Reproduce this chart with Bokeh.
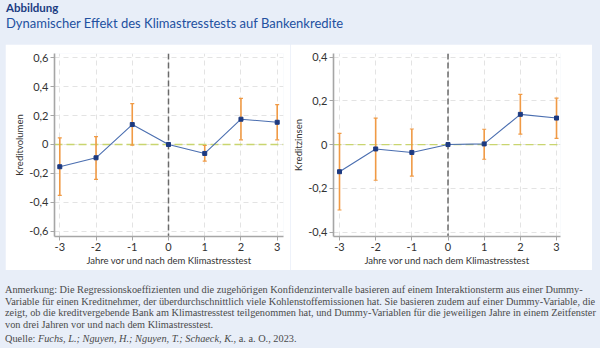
from bokeh.plotting import figure
from bokeh.models import (Div, FixedTicker, Whisker, TeeHead, ColumnDataSource,
                          Span, Range1d, Spacer)
from bokeh.layouts import column, row
from bokeh.embed import file_html
from bokeh.resources import INLINE

# ---- data -------------------------------------------------------------
years = [-3, -2, -1, 0, 1, 2, 3]
x_tick_labels = ["-3", "-2", "-1", "0", "1", "2", "3"]

vol = [-0.154, -0.092, 0.138, 0.0, -0.062, 0.175, 0.154]
vol_lo = [-0.352, -0.241, -0.005, 0.0, -0.115, 0.032, 0.032]
vol_hi = [0.046, 0.055, 0.283, 0.0, -0.007, 0.320, 0.276]

zins = [-0.124, -0.020, -0.036, 0.0, 0.003, 0.138, 0.121]
zins_lo = [-0.299, -0.163, -0.144, 0.0, -0.067, 0.048, 0.028]
zins_hi = [0.051, 0.121, 0.071, 0.0, 0.070, 0.229, 0.212]

vol_ticks = [-0.6, -0.4, -0.2, 0.0, 0.2, 0.4, 0.6]
vol_tick_labels = ["-0,6", "-0,4", "-0,2", "0", "0,2", "0,4", "0,6"]
zins_ticks = [-0.4, -0.2, 0.0, 0.2, 0.4]
zins_tick_labels = ["-0,4", "-0,2", "0", "0,2", "0,4"]

title_top = "Abbildung"
title_main = "Dynamischer Effekt des Klimastresstests auf Bankenkredite"
x_label = "Jahre vor und nach dem Klimastresstest"
note_lines = [
    "Anmerkung: Die Regressionskoeffizienten und die zugehörigen Konfidenzintervalle basieren auf einem Interaktionsterm aus einer Dummy-",
    "Variable für einen Kreditnehmer, der überdurchschnittlich viele Kohlenstoffemissionen hat. Sie basieren zudem auf einer Dummy-Variable, die",
    "zeigt, ob die kreditvergebende Bank am Klimastresstest teilgenommen hat, und Dummy-Variablen für die jeweiligen Jahre in einem Zeitfenster",
    "von drei Jahren vor und nach dem Klimastresstest.",
]

# ---- style -------------------------------------------------------------
BG = "#e8eef8"
ORANGE = "#f09a45"
BLUE = "#4a6eb0"
NAVY = "#1d3a80"
AXIS = "#a6a6a6"
FONT = "Lato"


def make_panel(vals, lo, hi, yticks, ylabels, ylab, width, xr, yr, bl, br):
    p = figure(width=width, height=226, output_backend="svg", toolbar_location=None,
               x_range=Range1d(*xr), y_range=Range1d(*yr),
               min_border_left=bl, min_border_right=br,
               min_border_top=9, min_border_bottom=34)
    p.background_fill_color = "white"
    p.border_fill_color = "white"
    p.outline_line_color = None

    # axes
    p.xaxis.ticker = FixedTicker(ticks=years)
    p.xaxis.major_label_overrides = {y: l for y, l in zip(years, x_tick_labels)}
    p.yaxis.ticker = FixedTicker(ticks=yticks)
    p.yaxis.major_label_overrides = {t: l for t, l in zip(yticks, ylabels)}
    for ax in (p.xaxis, p.yaxis):
        ax.axis_line_color = AXIS
        ax.axis_line_width = 1.6
        ax.major_tick_line_color = AXIS
        ax.major_tick_out = 4
        ax.major_tick_in = 0
        ax.minor_tick_line_color = None
        ax.major_label_text_font = FONT
        ax.major_label_text_font_size = "11px"
        ax.major_label_text_color = "#333333"
        ax.axis_label_text_font = FONT
        ax.axis_label_text_font_size = "9.5px"
        ax.axis_label_text_font_style = "normal"
        ax.axis_label_text_color = "#333333"
    p.xaxis.axis_label = x_label
    p.xaxis.major_label_standoff = 2
    p.xaxis.axis_label_standoff = 1
    p.yaxis.axis_label = ylab
    p.yaxis.major_label_standoff = 2
    p.yaxis.axis_label_standoff = 1

    # grid
    p.xgrid.ticker = FixedTicker(ticks=years)
    p.ygrid.ticker = FixedTicker(ticks=yticks)
    for g in (p.xgrid, p.ygrid):
        g.grid_line_color = "#e3e3e3"
        g.grid_line_dash = "5 4"
        g.grid_line_width = 1

    # reference lines
    p.add_layout(Span(location=0, dimension="width", line_color="#c9d56f",
                      line_dash="8 4", line_width=1.3, level="underlay"))
    p.add_layout(Span(location=0, dimension="height", line_color="#6a6a6a",
                      line_dash="6 3", line_width=1.5, level="underlay"))

    # confidence intervals (none for the reference year 0)
    idx = [i for i, y in enumerate(years) if y != 0]
    src_ci = ColumnDataSource(dict(x=[years[i] for i in idx],
                                   lo=[lo[i] for i in idx],
                                   hi=[hi[i] for i in idx]))
    w = Whisker(source=src_ci, base="x", lower="lo", upper="hi",
                line_color=ORANGE, line_width=1.6,
                upper_head=TeeHead(size=4, line_color=ORANGE, line_width=1.2),
                lower_head=TeeHead(size=4, line_color=ORANGE, line_width=1.2))
    p.add_layout(w)

    src = ColumnDataSource(dict(x=years, y=vals))
    p.line("x", "y", source=src, line_color=BLUE, line_width=1.1)
    p.scatter("x", "y", source=src, marker="square", size=4,
              fill_color=NAVY, line_color=NAVY)
    return p


p1 = make_panel(vol, vol_lo, vol_hi, vol_ticks, vol_tick_labels, "Kreditvolumen",
                285, (-3.146, 3.174), (-0.637, 0.63), 49, 7)
p2 = make_panel(zins, zins_lo, zins_hi, zins_ticks, zins_tick_labels, "Kreditzinsen",
                302, (-3.166, 3.11), (-0.42, 0.416), 43, 32)

title_html = (
    f'<div style="position:relative;width:600px;height:44px;font-family:{FONT};">'
    f'<div style="position:absolute;left:6px;top:0px;font-weight:bold;font-size:11.5px;'
    f'color:#1b3c82;white-space:nowrap;">{title_top}</div>'
    f'<div style="position:absolute;left:6px;top:14px;font-size:13px;color:#2250a0;'
    f'white-space:nowrap;">{title_main}</div></div>'
)
title_div = Div(text=title_html, width=600, height=44, margin=0)

note_html = (
    '<div style="position:relative;width:600px;height:78px;font-family:\'Liberation Serif\';'
    'font-size:10.3px;color:#4a4a4a;line-height:11.7px;">'
    '<div style="position:absolute;left:5px;top:14px;white-space:nowrap;">'
    + "<br>".join(note_lines) +
    '</div><div style="position:absolute;left:5px;top:63px;white-space:nowrap;">'
    'Quelle: <i>Fuchs, L.; Nguyen, H.; Nguyen, T.; Schaeck, K.</i>, a. a. O., 2023.</div></div>'
)
note_div = Div(text=note_html, width=600, height=78, margin=0)

layout = column(
    title_div,
    row(Spacer(width=5, height=226, margin=0), p1, p2, Spacer(width=8, height=226, margin=0),
        spacing=0, margin=0),
    note_div,
    spacing=0, width=600, height=348, margin=0,
    styles={"background-color": BG},
)

open("out.html", "w").write(file_html(layout, INLINE))
